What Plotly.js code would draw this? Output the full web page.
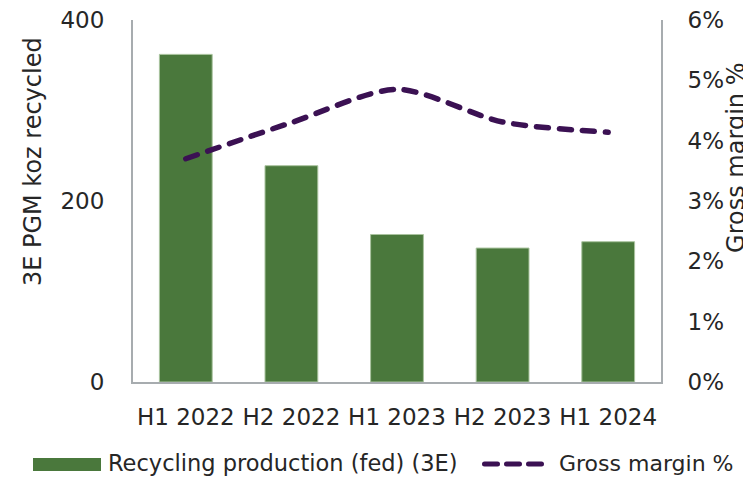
<!DOCTYPE html>
<html>
<head>
<meta charset="utf-8">
<script src="https://cdn.plot.ly/plotly-3.0.1.min.js"></script>
<style>
  html, body { margin: 0; padding: 0; background: #fff; }
  #chart { width: 743px; height: 479px; }
  .scatterlayer path.js-line { stroke-linecap: round !important; }
  .shapelayer path { stroke-linecap: round !important; }
</style>
</head>
<body>
<div id="chart"></div>
<script>
// Data
const categories = ["H1 2022", "H2 2022", "H1 2023", "H2 2023", "H1 2024"];
const recyclingKoz = [362, 239, 163, 148, 155];
const grossMargin = [0.0370, 0.0430, 0.0485, 0.0431, 0.0414];
const leftTicks = [0, 200, 400];
const rightTicks = [0, 0.01, 0.02, 0.03, 0.04, 0.05, 0.06];
const seriesNames = ["Recycling production (fed) (3E)", "Gross margin %"];

const FONT = "DejaVu Sans, sans-serif";
const TXT = "#262626";
const AXIS = "#A7ACAF";
const BAR = "#4A783C";
const LINE = "#3B1153";

// plot-area geometry (pixels) used to place the legend in paper units
const M = { l: 133, r: 82, t: 20, b: 97 };
const W = 743, H = 479;
const PW = W - M.l - M.r, PH = H - M.t - M.b;
const px = x => (x - M.l) / PW;
const py = y => (H - M.b - y) / PH;

const traces = [
  {
    type: "bar",
    name: seriesNames[0],
    x: categories,
    y: recyclingKoz,
    marker: { color: BAR, line: { color: "#A9C39E", width: 1 } },
    yaxis: "y",
    hoverinfo: "skip"
  },
  {
    type: "scatter",
    mode: "lines",
    name: seriesNames[1],
    x: categories,
    y: grossMargin,
    yaxis: "y2",
    line: { color: LINE, width: 5.5, dash: "12px,11px", shape: "spline", smoothing: 0.8 },
    hoverinfo: "skip"
  }
];

const layout = {
  width: W,
  height: H,
  margin: { l: M.l, r: M.r, t: M.t, b: M.b, autoexpand: false },
  paper_bgcolor: "#ffffff",
  plot_bgcolor: "#ffffff",
  font: { family: FONT, size: 23, color: TXT },
  bargap: 0.5,
  showlegend: false,
  xaxis: {
    type: "category",
    showline: true,
    linecolor: AXIS,
    linewidth: 2,
    showgrid: false,
    zeroline: false,
    automargin: false,
    tickangle: 0,
    ticks: "outside",
    ticklen: 13,
    tickcolor: "rgba(0,0,0,0)",
    tickfont: { family: FONT, size: 23, color: TXT }
  },
  yaxis: {
    range: [0, 400],
    tickvals: leftTicks,
    showline: true,
    linecolor: AXIS,
    linewidth: 2,
    showgrid: false,
    zeroline: false,
    automargin: false,
    ticks: "outside",
    ticklen: 22,
    tickcolor: "rgba(0,0,0,0)",
    tickfont: { family: FONT, size: 23, color: TXT }
  },
  yaxis2: {
    overlaying: "y",
    side: "right",
    range: [0, 0.06],
    tickvals: rightTicks,
    tickformat: ".0%",
    showline: true,
    linecolor: AXIS,
    linewidth: 2,
    showgrid: false,
    zeroline: false,
    automargin: false,
    ticks: "outside",
    ticklen: 20,
    tickcolor: "rgba(0,0,0,0)",
    tickfont: { family: FONT, size: 23, color: TXT }
  },
  shapes: [
    // legend swatch: bars
    {
      type: "rect", xref: "paper", yref: "paper",
      x0: px(33), x1: px(101), y0: py(471), y1: py(458),
      fillcolor: BAR, line: { width: 0 }
    },
    // legend swatch: dashed line
    {
      type: "line", xref: "paper", yref: "paper",
      x0: px(484.5), x1: px(544), y0: py(464), y1: py(464),
      line: { color: LINE, width: 5, dash: "13px,9px" }
    }
  ],
  annotations: [
    {
      text: "3E PGM koz recycled",
      xref: "paper", yref: "paper",
      x: -0.189, y: 0.608,
      xanchor: "center", yanchor: "middle",
      textangle: -90, showarrow: false,
      font: { family: FONT, size: 24, color: TXT }
    },
    {
      text: "Gross margin %",
      xref: "paper", yref: "paper",
      x: 1.142, y: 0.619,
      xanchor: "center", yanchor: "middle",
      textangle: -90, showarrow: false,
      font: { family: FONT, size: 24, color: TXT }
    },
    {
      text: seriesNames[0],
      xref: "paper", yref: "paper",
      x: px(106), y: py(463),
      xanchor: "left", yanchor: "middle",
      showarrow: false,
      font: { family: FONT, size: 22.5, color: TXT }
    },
    {
      text: seriesNames[1],
      xref: "paper", yref: "paper",
      x: px(557), y: py(463),
      xanchor: "left", yanchor: "middle",
      showarrow: false,
      font: { family: FONT, size: 22, color: TXT }
    }
  ]
};

Plotly.newPlot("chart", traces, layout, { displayModeBar: false, staticPlot: true });
</script>
</body>
</html>
